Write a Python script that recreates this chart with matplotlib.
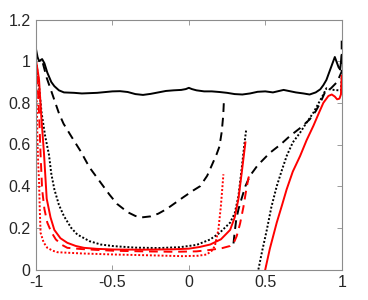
import matplotlib
matplotlib.use("Agg")
import matplotlib.pyplot as plt

# black solid
bs_x = [-1.0, -0.99, -0.98, -0.97, -0.96, -0.945, -0.926, -0.9, -0.88, -0.85, -0.817, -0.75, -0.7, -0.6,
        -0.5, -0.45, -0.4, -0.35, -0.3, -0.25, -0.2, -0.15, -0.1, -0.05, -0.02, 0.0, 0.02, 0.05, 0.1,
        0.15, 0.2, 0.25, 0.3, 0.35, 0.4, 0.45, 0.5, 0.55, 0.62, 0.7, 0.75, 0.79, 0.83, 0.86, 0.88, 0.9,
        0.92, 0.94, 0.955, 0.965, 0.98, 0.99, 1.0]
bs_y = [1.058, 1.02, 1.0, 1.005, 1.01, 0.99, 0.945, 0.9, 0.88, 0.86, 0.85, 0.848, 0.845, 0.848,
        0.855, 0.856, 0.852, 0.842, 0.838, 0.843, 0.85, 0.857, 0.86, 0.862, 0.866, 0.872, 0.866, 0.86, 0.855,
        0.855, 0.852, 0.848, 0.842, 0.84, 0.845, 0.853, 0.855, 0.85, 0.862, 0.85, 0.845, 0.84, 0.85, 0.865, 0.885, 0.91,
        0.95, 0.99, 1.02, 1.0, 0.97, 0.96, 1.03]

# black dashed, two branches
bd1_x = [-0.955, -0.93, -0.904, -0.85, -0.82, -0.77, -0.71, -0.65, -0.58, -0.52, -0.47, -0.4, -0.35,
         -0.31, -0.25, -0.2, -0.146, -0.04, 0.03, 0.074, 0.12, 0.15, 0.18, 0.2, 0.215, 0.225, 0.23]
bd1_y = [0.99, 0.92, 0.865, 0.75, 0.70, 0.64, 0.57, 0.49, 0.42, 0.36, 0.315, 0.275, 0.257,
         0.25, 0.255, 0.268, 0.29, 0.345, 0.38, 0.40, 0.45, 0.50, 0.55, 0.59, 0.66, 0.74, 0.82]
bd2_x = [0.292, 0.30, 0.31, 0.325, 0.345, 0.37, 0.40, 0.45, 0.53, 0.6, 0.66, 0.73, 0.79, 0.83, 0.86,
         0.89, 0.93, 0.97, 1.0, 1.0]
bd2_y = [0.125, 0.18, 0.24, 0.29, 0.34, 0.40, 0.45, 0.50, 0.56, 0.60, 0.64, 0.68, 0.72, 0.76, 0.80,
         0.85, 0.87, 0.90, 0.95, 1.1]

# black dotted, two branches
bk1_x = [-1.0, -0.985, -0.974, -0.963, -0.94, -0.915, -0.9, -0.88, -0.85, -0.817, -0.77, -0.73, -0.65,
         -0.577, -0.49, -0.35, -0.2, -0.06, 0.05, 0.139, 0.2, 0.27, 0.3, 0.324, 0.345, 0.357, 0.368, 0.375]
bk1_y = [1.0, 0.92, 0.83, 0.75, 0.64, 0.55, 0.46, 0.385, 0.31, 0.256, 0.2, 0.168, 0.136,
         0.12, 0.112, 0.105, 0.103, 0.107, 0.118, 0.144, 0.175, 0.225, 0.27, 0.35, 0.48, 0.56, 0.63, 0.67]
bk2_x = [0.455, 0.48, 0.51, 0.54, 0.575, 0.61, 0.64, 0.68, 0.728, 0.77, 0.815, 0.85, 0.88, 0.9, 0.92,
         0.95, 0.98, 0.995, 1.0]
bk2_y = [0.0, 0.09, 0.19, 0.30, 0.40, 0.48, 0.545, 0.61, 0.657, 0.705, 0.753, 0.80, 0.84, 0.87, 0.865,
         0.862, 0.86, 0.86, 0.92]

# red solid, two branches
rs1_x = [-1.0, -0.99, -0.98, -0.965, -0.948, -0.93, -0.905, -0.88, -0.84, -0.795, -0.74, -0.686, -0.6,
         -0.49, -0.3, -0.1, 0.0, 0.07, 0.14, 0.21, 0.27, 0.3, 0.324, 0.346, 0.36, 0.37]
rs1_y = [1.0, 0.96, 0.91, 0.73, 0.56, 0.34, 0.25, 0.19, 0.15, 0.128, 0.113, 0.104, 0.099,
         0.096, 0.095, 0.097, 0.10, 0.108, 0.12, 0.145, 0.19, 0.25, 0.337, 0.465, 0.55, 0.61]
rs2_x = [0.50, 0.53, 0.575, 0.61, 0.64, 0.68, 0.728, 0.77, 0.815, 0.85, 0.88, 0.913, 0.935, 0.955,
         0.97, 0.985, 0.995, 1.0]
rs2_y = [0.0, 0.10, 0.225, 0.31, 0.385, 0.47, 0.545, 0.62, 0.69, 0.75, 0.80, 0.833, 0.84, 0.83,
         0.817, 0.82, 0.84, 0.93]

# red dashed
rd_x = [-1.0, -0.99, -0.98, -0.97, -0.96, -0.945, -0.926, -0.9, -0.87, -0.83, -0.795, -0.7, -0.6,
        -0.49, -0.3, -0.1, 0.05, 0.14, 0.22, 0.27, 0.295, 0.313, 0.335, 0.357, 0.375, 0.39, 0.40]
rd_y = [1.0, 0.9, 0.75, 0.55, 0.385, 0.29, 0.225, 0.18, 0.144, 0.118, 0.104, 0.098, 0.094,
        0.09, 0.087, 0.085, 0.087, 0.094, 0.103, 0.113, 0.13, 0.16, 0.22, 0.30, 0.38, 0.44, 0.46]

# red dotted
rk_x = [-1.0, -0.995, -0.99, -0.985, -0.98, -0.975, -0.97, -0.95, -0.926, -0.89, -0.86, -0.7, -0.49,
        -0.25, -0.04, 0.06, 0.117, 0.15, 0.17, 0.193, 0.209, 0.22, 0.226]
rk_y = [0.98, 0.8, 0.6, 0.5, 0.42, 0.28, 0.176, 0.13, 0.104, 0.09, 0.083, 0.077, 0.072,
        0.068, 0.064, 0.066, 0.072, 0.09, 0.112, 0.19, 0.30, 0.40, 0.457]

xticks = [-1, -0.5, 0, 0.5, 1]
xtick_labels = ["-1", "-0.5", "0", "0.5", "1"]
yticks = [0, 0.2, 0.4, 0.6, 0.8, 1, 1.2]
ytick_labels = ["0", "0.2", "0.4", "0.6", "0.8", "1", "1.2"]

plt.rcParams['font.family'] = ['Liberation Sans', 'DejaVu Sans']

fig = plt.figure(figsize=(3.68, 3.0), dpi=100)
ax = fig.add_axes([36 / 368, 30.5 / 300, 305.7 / 368, 250 / 300])

lw = 1.4
dash = (0, (4.5, 3))
dot = (0, (1, 1))

ax.plot(bs_x, bs_y, color='black', lw=lw, ls='-')
ax.plot(bd1_x, bd1_y, color='black', lw=lw, ls=dash)
ax.plot(bd2_x, bd2_y, color='black', lw=lw, ls=dash)
ax.plot(bk1_x, bk1_y, color='black', lw=lw, ls=dot)
ax.plot(bk2_x, bk2_y, color='black', lw=lw, ls=dot)
ax.plot(rs1_x, rs1_y, color='red', lw=lw, ls='-')
ax.plot(rs2_x, rs2_y, color='red', lw=lw, ls='-')
ax.plot(rd_x, rd_y, color='red', lw=lw, ls=dash)
ax.plot(rk_x, rk_y, color='red', lw=lw, ls=dot)

ax.set_xlim(-1, 1)
ax.set_ylim(0, 1.2)
ax.set_xticks(xticks)
ax.set_xticklabels(xtick_labels)
ax.set_yticks(yticks)
ax.set_yticklabels(ytick_labels)
ax.tick_params(direction='in', top=True, right=True, length=3.5, width=0.6,
               color='#8c8c8c', labelcolor='#262626', labelsize=11.5, pad=4)
for s in ax.spines.values():
    s.set_color('#8c8c8c')
    s.set_linewidth(0.8)

fig.savefig("out.png", dpi=100)
